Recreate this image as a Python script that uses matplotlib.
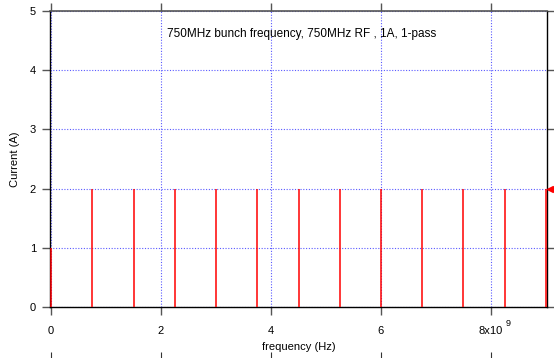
import numpy as np
import matplotlib
matplotlib.use('Agg')
import matplotlib.pyplot as plt
import matplotlib.transforms as mtransforms

plt.rcParams['font.family'] = ['Liberation Sans', 'DejaVu Sans']
plt.rcParams['font.size'] = 8

# bunch spectrum lines: 750 MHz spacing up to 9 GHz
freq_ghz = [0.0, 0.75, 1.5, 2.25, 3.0, 3.75, 4.5, 5.25, 6.0, 6.75, 7.5, 8.25, 9.0]
current = [1, 2, 2, 2, 2, 2, 2, 2, 2, 2, 2, 2, 2]
xticks = [0, 2, 4, 6, 8]
xtick_labels = ['0', '2', '4', '6', '8x10']
yticks = [0, 1, 2, 3, 4, 5]
title_text = '750MHz bunch frequency, 750MHz RF , 1A, 1-pass'

freq = np.array(freq_ghz) * 1e9

fig = plt.figure(figsize=(5.54, 3.58), dpi=100)
ax = fig.add_axes([50 / 554, 51 / 358, 497 / 554, 296 / 358])

ax.vlines(freq, 0, current, colors='red', linewidth=1.1, zorder=3)

ax.set_xlim(-0.02e9, 9.02e9)
ax.set_ylim(0, 5)
ax.set_xticks(np.array(xticks) * 1e9)
ax.set_xticklabels(xtick_labels)
ax.set_yticks(yticks)

ax.grid(True, color='#5a5aff', linestyle=(0, (1, 1.5)), linewidth=0.8)
ax.tick_params(direction='out', length=6, width=1, color='#555555', pad=8,
               top=True, right=True, labeltop=False, labelright=False)
ax.tick_params(axis='y', pad=4)

for s in ['left', 'bottom', 'right']:
    ax.spines[s].set_color('black')
    ax.spines[s].set_linewidth(1)
ax.spines['top'].set_color('#555555')
ax.spines['top'].set_linewidth(1.2)

# exponent next to the last tick label
ax.text(8.27e9, -0.2, '9', fontsize=6.5, ha='left', va='top')

ax.set_xlabel('frequency (Hz)', labelpad=4)
ax.set_ylabel('Current (A)', labelpad=7)

ax.text(0.507, 0.922, title_text, transform=ax.transAxes, ha='center', va='center',
        fontsize=8.5)

# cursor marker at the right edge
trans = mtransforms.offset_copy(ax.transData, fig=fig, x=4, y=0, units='dots')
ax.plot([freq[-1]], [current[-1]], marker='<', color='red', markersize=4,
        transform=trans, clip_on=False, zorder=5)

# secondary tick row below the label
sec = ax.secondary_xaxis(-0.18)
sec.set_xticks(np.array(xticks) * 1e9)
sec.set_xticklabels([])
sec.spines['bottom'].set_visible(False)
sec.tick_params(direction='in', length=6, color='#333333')

fig.savefig('out.png', dpi=100)
